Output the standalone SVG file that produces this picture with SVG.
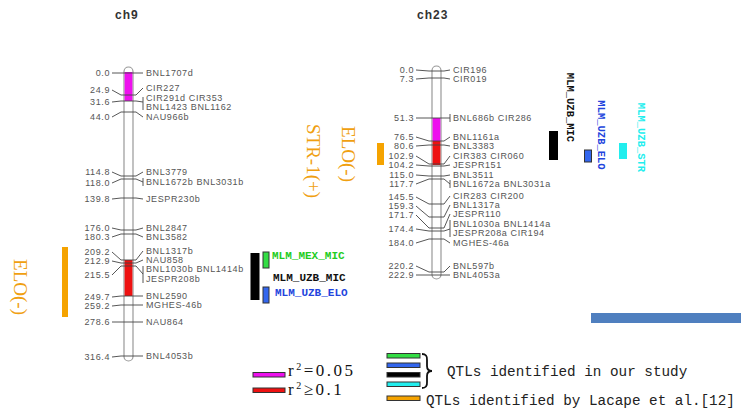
<svg xmlns="http://www.w3.org/2000/svg" width="741" height="411" viewBox="0 0 741 411">
<style>
.t{font-family:"Liberation Sans",Arial,sans-serif;font-size:9px;letter-spacing:0.6px;fill:#555}
.n{font-family:"Liberation Sans",Arial,sans-serif;font-size:9px;letter-spacing:0.6px;fill:#555;text-anchor:end}
.ttl{font-family:"Liberation Sans",Arial,sans-serif;font-size:12px;font-weight:bold;fill:#333;letter-spacing:1px}
.tk{fill:none;stroke:#444;stroke-width:0.9}
.chr{fill:#fff;stroke:#999;stroke-width:1.2}
.mlm{font-family:"Liberation Mono","Courier New",monospace;font-size:11px;font-weight:bold}
.mlmv{font-family:"Liberation Mono","Courier New",monospace;font-size:10.5px;font-weight:bold;dominant-baseline:central;text-anchor:middle}
.qtl{font-family:"Liberation Serif","Times New Roman",serif;font-size:19px;fill:#f0a010;dominant-baseline:central;text-anchor:middle}
.leg{font-family:"Liberation Mono","Courier New",monospace;font-size:14.3px;fill:#222}
.r2{font-family:"Liberation Serif","Times New Roman",serif;font-size:17px;fill:#111;letter-spacing:2.5px}
.box{stroke:#333;stroke-width:1}
</style>
<rect width="741" height="411" fill="#fff"/>

<g id="ch9">
<text class="ttl" x="115" y="19">ch9</text>
<rect class="chr" x="124" y="67" width="9" height="294" rx="4.5"/>
<rect x="124.6" y="72" width="7.8" height="29" fill="#ee10ee"/>
<rect x="124.6" y="260" width="7.8" height="36" fill="#ee1111"/>
<path class="tk" d="M112,73 H143 M112,90 L121,95 H136 L143,88 M112,102 L121,101 H136 L143,102 M143,97 V110 M112,117 L121,112 H136 L143,117 M112,172 L121,176 H136 L143,172 M112,183 L121,179 H136 L143,182 M143,178 V186 M112,199 L121,198 H136 L143,199 M112,228 L121,230 H136 L143,228 M112,237 L121,234 H136 L143,237 M112,252 L121,260 H136 L143,251 M112,261 L121,263 H136 L143,260 M112,275 L121,266 H136 L143,274 M143,266 V283 M112,297 L121,296 H136 L143,296 M112,306 L121,305 H136 L143,305 M112,322 H143 M112,357 L121,356 H136 L143,356"/>
<text class="n" x="110" y="76.2">0.0</text>
<text class="n" x="110" y="93.2">24.9</text>
<text class="n" x="110" y="105.2">31.6</text>
<text class="n" x="110" y="120.2">44.0</text>
<text class="n" x="110" y="175.2">114.8</text>
<text class="n" x="110" y="186.2">118.0</text>
<text class="n" x="110" y="202.2">139.8</text>
<text class="n" x="110" y="231.2">176.0</text>
<text class="n" x="110" y="240.2">180.3</text>
<text class="n" x="110" y="255.2">209.2</text>
<text class="n" x="110" y="264.2">212.9</text>
<text class="n" x="110" y="278.2">215.5</text>
<text class="n" x="110" y="300.2">249.7</text>
<text class="n" x="110" y="309.2">259.2</text>
<text class="n" x="110" y="325.2">278.6</text>
<text class="n" x="110" y="360.2">316.4</text>
<text class="t" x="146" y="76.2">BNL1707d</text>
<text class="t" x="146" y="91.2">CIR227</text>
<text class="t" x="146" y="101.2">CIR291d CIR353</text>
<text class="t" x="146" y="110.2">BNL1423 BNL1162</text>
<text class="t" x="146" y="120.2">NAU966b</text>
<text class="t" x="146" y="175.2">BNL3779</text>
<text class="t" x="146" y="185.2">BNL1672b BNL3031b</text>
<text class="t" x="146" y="202.2">JESPR230b</text>
<text class="t" x="146" y="231.2">BNL2847</text>
<text class="t" x="146" y="240.2">BNL3582</text>
<text class="t" x="146" y="254.2">BNL1317b</text>
<text class="t" x="146" y="263.2">NAU858</text>
<text class="t" x="146" y="272.2">BNL1030b BNL1414b</text>
<text class="t" x="146" y="282.2">JESPR208b</text>
<text class="t" x="146" y="299.2">BNL2590</text>
<text class="t" x="146" y="308.2">MGHES-46b</text>
<text class="t" x="146" y="325.2">NAU864</text>
<text class="t" x="146" y="359.2">BNL4053b</text>
</g>

<g id="ch23">
<text class="ttl" x="417" y="19">ch23</text>
<rect class="chr" x="432" y="66" width="9" height="213" rx="4.5"/>
<rect x="432.6" y="118" width="7.8" height="23" fill="#ee10ee"/>
<rect x="432.6" y="141" width="7.8" height="24" fill="#ee1111"/>
<path class="tk" d="M416,70 L429,71 H444 L450,70 M416,79 L429,78 H444 L450,79 M416,118 H450 M450,114 V122 M416,137 L429,141 H444 L450,137 M416,146 L429,145 H444 L450,146 M416,156 L429,164 H444 L450,156 M416,165 L429,166 H444 L450,165 M416,175 L429,176 H444 L450,175 M416,184 L429,179 H444 L450,184 M450,180 V188 M416,197 L429,204 H444 L450,196 M416,206 L429,217 H444 L450,205 M416,215 L429,228 H444 L450,214 M416,229 L429,231 H444 L450,229 M450,220 V237 M416,243 L429,239 H444 L450,243 M416,266 L429,272 H444 L450,266 M416,275 H450"/>
<text class="n" x="414" y="73.2">0.0</text>
<text class="n" x="414" y="82.2">7.3</text>
<text class="n" x="414" y="121.2">51.3</text>
<text class="n" x="414" y="140.2">76.5</text>
<text class="n" x="414" y="149.2">80.6</text>
<text class="n" x="414" y="159.2">102.9</text>
<text class="n" x="414" y="168.2">104.2</text>
<text class="n" x="414" y="178.2">115.0</text>
<text class="n" x="414" y="187.2">117.7</text>
<text class="n" x="414" y="200.2">145.5</text>
<text class="n" x="414" y="209.2">159.3</text>
<text class="n" x="414" y="218.2">171.7</text>
<text class="n" x="414" y="232.2">174.4</text>
<text class="n" x="414" y="246.2">184.0</text>
<text class="n" x="414" y="269.2">220.2</text>
<text class="n" x="414" y="278.2">222.9</text>
<text class="t" x="453" y="73.2">CIR196</text>
<text class="t" x="453" y="82.2">CIR019</text>
<text class="t" x="453" y="121.2">BNL686b CIR286</text>
<text class="t" x="453" y="140.2">BNL1161a</text>
<text class="t" x="453" y="149.2">BNL3383</text>
<text class="t" x="453" y="159.2">CIR383 CIR060</text>
<text class="t" x="453" y="168.2">JESPR151</text>
<text class="t" x="453" y="178.2">BNL3511</text>
<text class="t" x="453" y="187.2">BNL1672a BNL3031a</text>
<text class="t" x="453" y="199.2">CIR283 CIR200</text>
<text class="t" x="453" y="208.2">BNL1317a</text>
<text class="t" x="453" y="217.2">JESPR110</text>
<text class="t" x="453" y="227.2">BNL1030a BNL1414a</text>
<text class="t" x="453" y="236.2">JESPR208a CIR194</text>
<text class="t" x="453" y="246.2">MGHES-46a</text>
<text class="t" x="453" y="269.2">BNL597b</text>
<text class="t" x="453" y="278.2">BNL4053a</text>
</g>

<g id="qtl-ch9-lacape">
<rect x="62" y="247" width="6" height="70" fill="#f5a300"/>
<text class="qtl" transform="translate(20,287) rotate(90)">ELO(-)</text>
</g>
<g id="qtl-ch9-study">
<rect x="250.5" y="253" width="9" height="47" fill="#000"/>
<rect class="box" x="263" y="252" width="6" height="16" fill="#33dd44"/>
<rect class="box" x="263" y="287" width="6" height="16" fill="#3366ee"/>
<text class="mlm" x="272" y="259" fill="#22cc22">MLM_MEX_MIC</text>
<text class="mlm" x="273" y="281" fill="#111">MLM_UZB_MIC</text>
<text class="mlm" x="275" y="296" fill="#2244dd">MLM_UZB_ELO</text>
</g>
<g id="qtl-ch23-lacape">
<rect x="377" y="143" width="7" height="22" fill="#f5a300"/>
<text class="qtl" transform="translate(313,161) rotate(90)">STR-1(+)</text>
<text class="qtl" transform="translate(348,154) rotate(90)">ELO(-)</text>
</g>
<g id="qtl-ch23-study">
<rect x="549" y="131" width="9" height="29" fill="#000"/>
<rect class="box" x="584.5" y="150" width="7" height="12" fill="#3366ee"/>
<rect x="619" y="143" width="8" height="16" fill="#22eeee"/>
<text class="mlmv" fill="#111" transform="translate(569.5,107.5) rotate(90)">MLM_UZB_MIC</text>
<text class="mlmv" fill="#2244dd" transform="translate(601,135) rotate(90)">MLM_UZB_ELO</text>
<text class="mlmv" fill="#22eeee" transform="translate(640.5,137.5) rotate(90)">MLM_UZB_STR</text>
</g>

<rect x="591" y="313" width="150" height="10" fill="#4f7fbf"/>

<g id="legend">
<rect class="box" x="253" y="372.5" width="32" height="4.5" fill="#ee10ee"/>
<rect class="box" x="253" y="388" width="32" height="4.5" fill="#ee1111"/>
<text class="r2" x="288" y="376">r<tspan font-size="10" dy="-6">2</tspan><tspan dy="6">=0.05</tspan></text>
<text class="r2" x="288" y="395">r<tspan font-size="10" dy="-6">2</tspan><tspan dy="6">≥0.1</tspan></text>
<rect class="box" x="387" y="353.5" width="33" height="4.5" fill="#33dd44"/>
<rect class="box" x="387" y="363" width="33" height="4.5" fill="#3366ee"/>
<rect class="box" x="387" y="372.5" width="33" height="4.5" fill="#000"/>
<rect class="box" x="387" y="382" width="33" height="4.5" fill="#22eeee"/>
<rect class="box" x="387" y="396" width="33" height="4.5" fill="#f5a300"/>
<path d="M422,354 Q427.5,354 427,360 L427,366 Q427,371 432,371 Q427,371 427,376 L427,382 Q427.5,388 422,388" fill="none" stroke="#111" stroke-width="1.8"/>
<text class="leg" x="447" y="376">QTLs identified in our study</text>
<text class="leg" x="426" y="405">QTLs identified by Lacape et al.[12]</text>
</g>
</svg>
